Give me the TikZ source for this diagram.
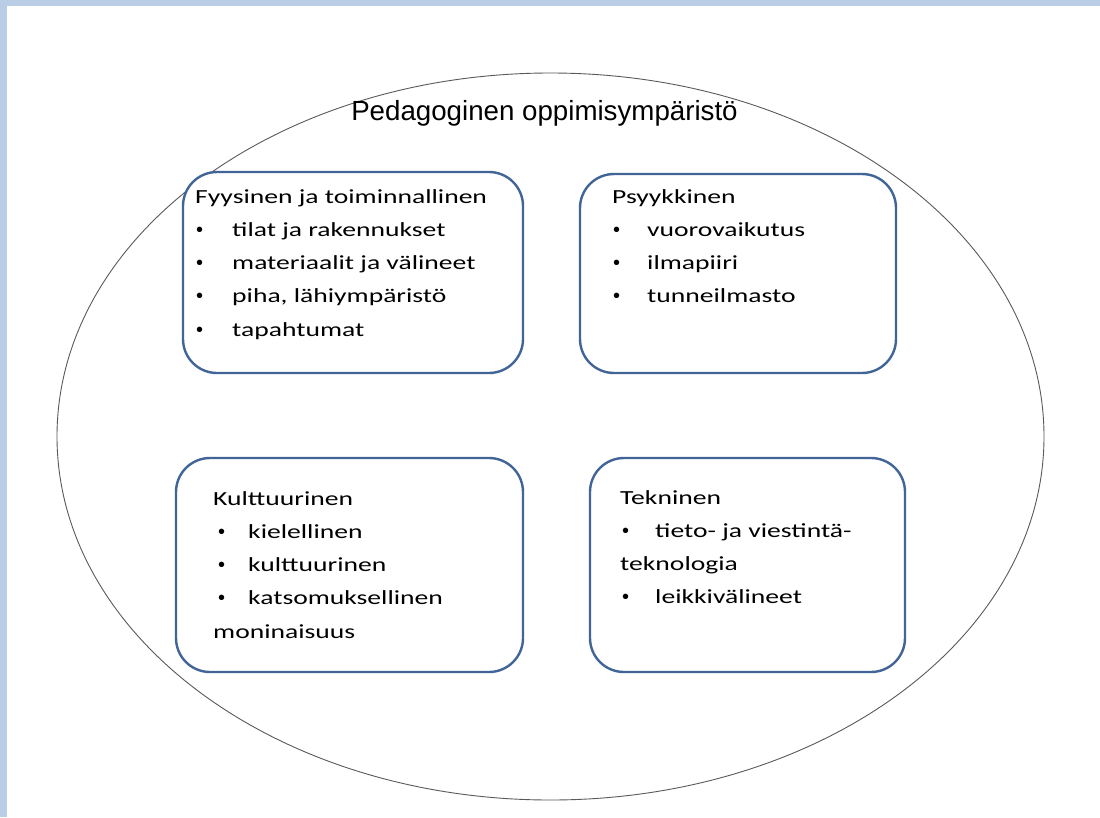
\documentclass[tikz,border=0pt]{standalone}
\usepackage{fontspec}
\setmainfont{Carlito}[FakeStretch=1.38]
\newfontfamily\otsikkofont{Liberation Sans}
\usetikzlibrary{positioning}
\definecolor{kehys}{RGB}{185, 205, 229}
\definecolor{reuna}{RGB}{65, 101, 150}
\definecolor{soikio}{RGB}{90, 90, 90}

\tikzset{
  boks/.style={draw=reuna, line width=2.4pt, rounded corners=34pt, fill=white},
  txt/.style={anchor=north west, inner sep=0pt, align=left,
    font=\fontsize{20pt}{33.3pt}\selectfont},
}
\newcommand{\pallo}{{\otsikkofont\fontsize{20pt}{20pt}\selectfont •}}
\newcommand{\luetelma}[3][35pt]{\hspace*{#2}\makebox[\dimexpr#1-#2\relax][l]{\pallo}#3}

\begin{document}
\begin{tikzpicture}[x=1pt, y=-1pt]
  \useasboundingbox (0,0) rectangle (1100,817);
  % tausta
  \fill[kehys] (0,0) rectangle (1100,817);
  \fill[white] (7,6) rectangle (1100,817);
  \draw[soikio, line width=0.9pt] (550.5,436.5) ellipse [x radius=493.5, y radius=363.5];
  \node[font=\otsikkofont\fontsize{27.7pt}{30pt}\selectfont] (otsikko) at (544.5,113) {Pedagoginen oppimisympäristö};

  % laatikot
  \node[boks, minimum width=340pt, minimum height=201pt] (fyys) at (353,272.5) {};
  \node[boks, minimum width=316pt, minimum height=199pt] (psyyk) at (738,273.5) {};
  \node[boks, minimum width=347pt, minimum height=214pt] (kult) at (349.5,565) {};
  \node[boks, minimum width=315pt, minimum height=214pt] (tekn) at (747.5,565) {};

  \node[txt] (fyystxt) at (195,189) {Fyysinen ja toiminnallinen\\
    \luetelma[37pt]{1pt}{tilat ja rakennukset}\\
    \luetelma[37pt]{1pt}{materiaalit ja välineet}\\
    \luetelma[37pt]{1pt}{piha, lähiympäristö}\\
    \luetelma[37pt]{1pt}{tapahtumat}};
  \node[txt] (psyyktxt) at (612,189) {Psyykkinen\\
    \luetelma{1pt}{vuorovaikutus}\\
    \luetelma{1pt}{ilmapiiri}\\
    \luetelma{1pt}{tunneilmasto}};
  \node[txt] (kulttxt) at (213,491) {Kulttuurinen\\
    \luetelma{5pt}{kielellinen}\\
    \luetelma{5pt}{kulttuurinen}\\
    \luetelma{5pt}{katsomuksellinen}\\
    moninaisuus};
  \node[txt] (tekntxt) at (620,490) {Tekninen\\
    \luetelma{2pt}{tieto- ja viestintä-}\\
    teknologia\\
    \luetelma{2pt}{leikkivälineet}};
\end{tikzpicture}
\end{document}
